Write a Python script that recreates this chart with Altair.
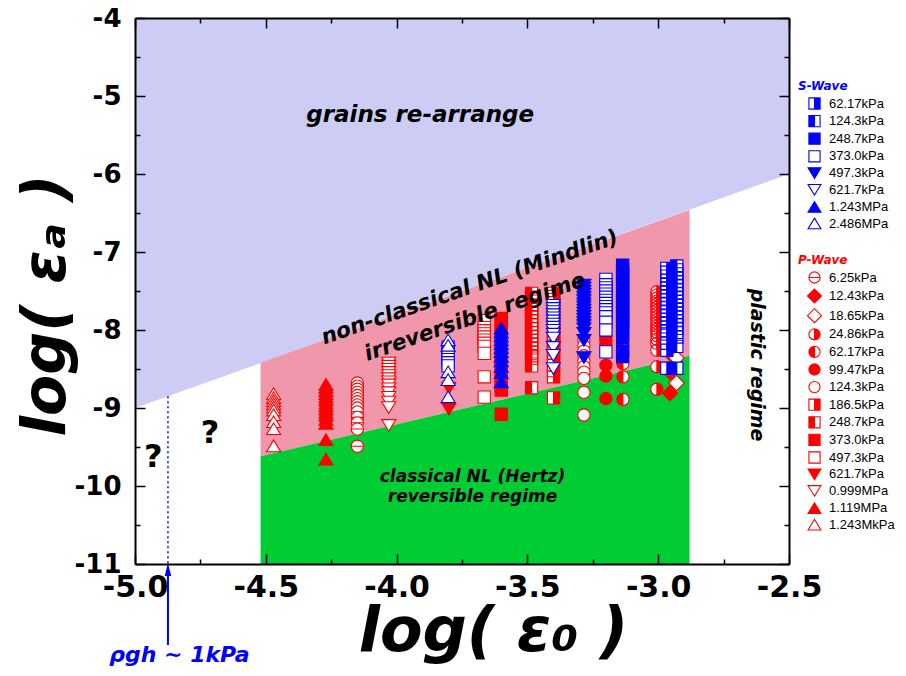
import altair as alt
import pandas as pd

# ---------------- layout / scales ----------------
W, H = 654, 546
X_DOMAIN = [-5.0, -2.5]
Y_DOMAIN = [-11.0, -4.0]
X_MAJOR = [-5.0, -4.5, -4.0, -3.5, -3.0, -2.5]
X_MINOR = [-4.75, -4.25, -3.75, -3.25, -2.75]
Y_MAJOR = [-11, -10, -9, -8, -7, -6, -5, -4]
Y_MINOR = [-10.5, -9.5, -8.5, -7.5, -6.5, -5.5, -4.5]

FONT = "DejaVu Sans"
BLUE = "#0000FF"
RED = "#FF0000"
REGION_BLUE = "#CCCCF5"
REGION_PINK = "#F097AB"
REGION_GREEN = "#00CC33"

# ---------------- regime regions ----------------
UPPER_X = [-5.0, -2.5]          # upper boundary (grains re-arrange)
UPPER_Y = [-9.0, -6.0]
BAND_X = [-4.52, -2.88]         # measured band
BAND_TOP = [-8.42, -6.46]
BAND_MID = [-9.62, -8.33]

# ---------------- symbols ----------------
SQ = "M-1,-1H1V1H-1Z"
CI = "M1,0A1,1,0,1,1,-1,0A1,1,0,1,1,1,0Z"
TU = "M0,-1L1.15,0.9L-1.15,0.9Z"
TD = "M0,1L1.15,-0.9L-1.15,-0.9Z"
DM = "M0,-1.25L1.25,0L0,1.25L-1.25,0Z"
SQ_RF = SQ + "M-1,-1V1H0V-1Z"
SQ_LF = SQ + "M0,-1V1H1V-1Z"
CI_RF = CI + "M0,1V-1A1,1,0,0,0,0,1Z"
CI_LF = CI + "M0,-1V1A1,1,0,0,0,0,-1Z"
CI_BAR = CI + "M-1,0H1"
HALF = {SQ_RF: SQ, SQ_LF: SQ, CI_RF: CI, CI_LF: CI}

# ---------------- P-wave series ----------------
P_LABELS = ["6.25kPa", "12.43kPa", "18.65kPa", "24.86kPa", "62.17kPa", "99.47kPa",
            "124.3kPa", "186.5kPa", "248.7kPa", "373.0kPa", "497.3kPa", "621.7kPa",
            "0.999MPa", "1.119MPa", "1.243MkPa"]
P_SHAPES = [CI_BAR, DM, DM, CI_RF, CI_LF, CI, CI, SQ_RF, SQ_LF, SQ, SQ, TD, TD, TU, TU]
P_FILLS = ["white", RED, "white", RED, RED, RED, "white", RED, RED, RED, "white",
           RED, "white", RED, "white"]

P_6_25 = [(-4.15, [-8.68, -8.72, -8.76, -8.80, -8.84, -8.88, -8.92, -8.96, -9.00, -9.05,
                   -9.12, -9.19, -9.27, -9.49])]
P_12_43 = [(-2.955, [-8.30, -8.54, -8.81])]
P_18_65 = [(-2.93, [-8.36, -8.68])]
P_24_86 = [(-3.005, [-7.51, -7.55, -7.59, -7.63, -7.67, -7.71, -7.75, -7.79, -7.83, -7.87,
                     -7.91, -7.95, -7.99, -8.03, -8.07, -8.12, -8.17, -8.26, -8.47, -8.76])]
P_62_17 = [(-3.135, [-8.13, -8.20, -8.43, -8.60, -8.89])]
P_99_47 = [(-3.20, [-8.08, -8.13, -8.18, -8.45, -8.59, -8.88])]
P_124_3 = [(-3.284, [-8.13, -8.20, -8.27, -8.33, -8.40, -8.47, -8.54, -8.62, -8.80, -9.09])]
P_186_5 = [(-3.40, [-7.53, -7.57, -7.61, -7.65, -7.69, -7.73, -7.77, -7.81, -7.85, -7.89,
                    -7.93, -7.97, -8.01, -8.05, -8.09, -8.13, -8.17, -8.21, -8.25, -8.30,
                    -8.36, -8.45, -8.52, -8.60, -8.87])]
P_248_7 = [(-3.484, [-7.53, -7.58, -7.63, -7.68, -7.73, -7.78, -7.83, -7.88, -7.93, -7.98,
                     -8.03, -8.08, -8.13, -8.18, -8.23, -8.28, -8.33, -8.36, -8.46, -8.74])]
P_373_0 = [(-3.60, [-7.85, -7.92, -8.00, -8.08, -8.16, -8.24, -8.32, -8.40, -8.48, -8.56,
                    -8.64, -8.72, -8.77, -9.08])]
P_497_3 = [(-3.665, [-7.88, -7.97, -8.01, -8.05, -8.09, -8.13, -8.17, -8.21, -8.30, -8.60,
                     -8.86])]
P_621_7 = [(-3.80, [-8.74, -9.01])]
P_0_999 = [(-4.03, [-8.42, -8.46, -8.50, -8.54, -8.58, -8.62, -8.66, -8.70, -8.75, -8.80,
                    -8.86, -8.92, -8.99, -9.22])]
P_1_119 = [(-4.27, [-8.70, -8.74, -8.78, -8.82, -8.86, -8.90, -8.94, -8.98, -9.02, -9.06,
                    -9.10, -9.15, -9.20, -9.41, -9.66])]
P_1_243 = [(-4.47, [-8.82, -8.87, -8.91, -8.95, -8.99, -9.03, -9.09, -9.18, -9.27, -9.49])]
P_GROUPS = [P_6_25, P_12_43, P_18_65, P_24_86, P_62_17, P_99_47, P_124_3, P_186_5,
            P_248_7, P_373_0, P_497_3, P_621_7, P_0_999, P_1_119, P_1_243]

# ---------------- S-wave series ----------------
S_LABELS = ["62.17kPa", "124.3kPa", "248.7kPa", "373.0kPa", "497.3kPa", "621.7kPa",
            "1.243MPa", "2.486MPa"]
S_SHAPES = [SQ_RF, SQ_LF, SQ, SQ, TD, TD, TU, TU]
S_FILLS = [BLUE, BLUE, BLUE, "white", BLUE, "white", BLUE, "white"]

S_62_17 = [(-2.967, [-7.21, -7.26, -7.31, -7.36, -7.41, -7.46, -7.51, -7.56, -7.61, -7.66,
                     -7.71, -7.76, -7.81, -7.86, -7.91, -7.96, -8.01, -8.05, -8.17, -8.26,
                     -8.49])]
S_124_3 = [(-2.929, [-7.18, -7.23, -7.28, -7.33, -7.38, -7.43, -7.48, -7.53, -7.58, -7.63,
                     -7.68, -7.73, -7.78, -7.83, -7.88, -7.93, -7.98, -8.03, -8.09, -8.21,
                     -8.49])]
S_248_7 = [(-3.136, [-7.17, -7.23, -7.29, -7.35, -7.41, -7.47, -7.53, -7.59, -7.65, -7.71,
                     -7.77, -7.83, -7.89, -7.94, -8.02, -8.10, -8.27, -8.34])]
S_373_0 = [(-3.20, [-7.35, -7.42, -7.46, -7.50, -7.54, -7.58, -7.62, -7.66, -7.70, -7.74,
                    -7.78, -7.83, -7.90, -8.00, -8.28]),
           (-3.803, [-8.22, -8.26, -8.30, -8.34, -8.38, -8.42, -8.46])]
S_497_3 = [(-3.284, [-7.42, -7.46, -7.50, -7.54, -7.58, -7.62, -7.66, -7.70, -7.74, -7.78,
                     -7.82, -7.86, -7.90, -7.94, -7.98, -8.04, -8.13, -8.35])]
S_621_7 = [(-3.401, [-7.68, -7.72, -7.76, -7.80, -7.84, -7.88, -7.92, -7.96, -8.00, -8.05,
                     -8.10, -8.22, -8.32, -8.49])]
S_1_243 = [(-3.60, [-7.98, -8.03, -8.08, -8.13, -8.18, -8.23, -8.28, -8.34, -8.40, -8.47,
                    -8.55, -8.67])]
S_2_486 = [(-3.803, [-8.13, -8.20, -8.54, -8.64, -8.86])]
S_GROUPS = [S_62_17, S_124_3, S_248_7, S_373_0, S_497_3, S_621_7, S_1_243, S_2_486]

# ---------------- annotations ----------------
RHO_LINE_X = -4.874
DOTTED_Y = [-8.85, -11.0]
ARROW_Y = [-12.04, -11.12]
ARROW_HEAD_Y = -11.07
RHO_LABEL = "ρgh ~ 1kPa"
RHO_POS = (-4.83, -12.17)
QMARK_X = [-4.93, -4.713]
QMARK_Y = [-9.63, -9.32]


def build(labels, shapes, groups):
    rows = []
    for lab, shp, grp in zip(labels, shapes, groups):
        for gx, ys in grp:
            for yv in ys:
                rows.append({"series": lab, "x": gx, "y": yv,
                             "base": HALF.get(shp, ""), "half": shp in HALF})
    return pd.DataFrame(rows)


p_df = build(P_LABELS, P_SHAPES, P_GROUPS)
s_df = build(S_LABELS, S_SHAPES, S_GROUPS)

XS = alt.Scale(domain=X_DOMAIN, nice=False, zero=False)
YS = alt.Scale(domain=Y_DOMAIN, nice=False, zero=False)


def ex(field="x", axis=None):
    return alt.X(f"{field}:Q", scale=XS, axis=axis)


def ey(field="y", axis=None):
    return alt.Y(f"{field}:Q", scale=YS, axis=axis)


# ---------------- regions ----------------
blue_area = alt.Chart(pd.DataFrame({"x": UPPER_X, "y": UPPER_Y, "y2": [Y_DOMAIN[1]] * 2})).mark_area(
    color=REGION_BLUE, opacity=1).encode(x=ex(), y=ey(), y2="y2:Q")
pink_area = alt.Chart(pd.DataFrame({"x": BAND_X, "y": BAND_MID, "y2": BAND_TOP})).mark_area(
    color=REGION_PINK, opacity=1).encode(x=ex(), y=ey(), y2="y2:Q")
green_area = alt.Chart(pd.DataFrame({"x": BAND_X, "y": [Y_DOMAIN[0]] * 2, "y2": BAND_MID})).mark_area(
    color=REGION_GREEN, opacity=1).encode(x=ex(), y=ey(), y2="y2:Q")

dotted = alt.Chart(pd.DataFrame({"x": [RHO_LINE_X], "y": [DOTTED_Y[0]], "y2": [DOTTED_Y[1]]})).mark_rule(
    color=BLUE, strokeDash=[2, 3], strokeWidth=1.5).encode(x=ex(), y=ey(), y2="y2:Q")

# ---------------- axes ----------------
MINUS_FIX_1 = "replace(format(datum.value, '.1f'), '\u2212', '-')"
MINUS_FIX_0 = "replace(format(datum.value, 'd'), '\u2212', '-')"

AX_X_LAB = alt.Axis(orient="bottom", values=X_MAJOR, labelExpr=MINUS_FIX_1, ticks=False,
                    domain=False, grid=False, labelFont=FONT, labelFontSize=30,
                    labelFontWeight="bold", labelColor="black", labelPadding=8,
                    labelFlush=False, labelOverlap=False,
                    title="log( ε₀ )", titleFont=FONT, titleFontSize=62, titleFontWeight="bold",
                    titleFontStyle="italic", titleColor="black", titleX=358, titleY=86,
                    titleAlign="center", titleBaseline="alphabetic")
AX_Y_LAB = alt.Axis(orient="left", values=Y_MAJOR, labelExpr=MINUS_FIX_0, ticks=False,
                    domain=False, grid=False, labelFont=FONT, labelFontSize=26,
                    labelFontWeight="bold", labelColor="black", labelPadding=14,
                    labelFlush=False, labelOverlap=False,
                    title="log( εₐ )", titleFont=FONT, titleFontSize=60, titleFontWeight="bold",
                    titleFontStyle="italic", titleColor="black", titleX=-71, titleY=287,
                    titleAngle=270, titleAlign="center", titleBaseline="alphabetic")


def tick_axis(orient, offset, values, size, domain):
    return alt.Axis(orient=orient, offset=offset, values=values, tickSize=size, ticks=True,
                    labels=False, domain=domain, domainColor="black", domainWidth=2,
                    tickColor="black", tickWidth=1.5, grid=False, title=None, zindex=2)


AXIS_PAIRS = [
    (AX_X_LAB, AX_Y_LAB),
    (tick_axis("top", -H, X_MAJOR, 10, True), tick_axis("right", -W, Y_MAJOR, 10, True)),
    (tick_axis("top", -H, X_MINOR, 5, False), tick_axis("right", -W, Y_MINOR, 5, False)),
    (tick_axis("bottom", -H, X_MAJOR, 10, True), tick_axis("left", -W, Y_MAJOR, 10, True)),
    (tick_axis("bottom", -H, X_MINOR, 5, False), tick_axis("left", -W, Y_MINOR, 5, False)),
]
dummy = pd.DataFrame({"x": [X_DOMAIN[0]], "y": [Y_DOMAIN[0]]})
axis_layers = [alt.Chart(dummy).mark_point(opacity=0).encode(x=ex(axis=ax), y=ey(axis=ay))
               for ax, ay in AXIS_PAIRS]


# ---------------- points ----------------
def legend(title, color, ly):
    return alt.Legend(title=title, orient="none", legendX=663, legendY=ly, direction="vertical",
                      titleColor=color, titleFont=FONT, titleFontSize=12, titleFontWeight="bold",
                      titleFontStyle="italic", titlePadding=4, labelFont="Liberation Sans",
                      labelFontSize=13, labelColor="black", symbolSize=125,
                      symbolStrokeWidth=1.1, symbolOffset=10, labelOffset=8, rowPadding=0.6,
                      padding=0, labelLimit=200)


def point_layers(df, labels, shapes, fills, color, title, ly):
    base = alt.Chart(df[df["half"]]).mark_point(filled=True, opacity=1, size=150, strokeWidth=0).encode(
        x=ex(), y=ey(), shape=alt.Shape("base:N", scale=None), fill=alt.value("white"))
    lg = legend(title, color, ly)
    main = alt.Chart(df).mark_point(filled=True, opacity=1, size=150, strokeWidth=1.1).encode(
        x=ex(), y=ey(),
        shape=alt.Shape("series:N", scale=alt.Scale(domain=labels, range=shapes), legend=lg),
        fill=alt.Fill("series:N", scale=alt.Scale(domain=labels, range=fills), legend=lg),
        stroke=alt.Stroke("series:N", scale=alt.Scale(domain=labels, range=[color] * len(labels)),
                          legend=lg),
    )
    return [base, main]


p_layers = point_layers(p_df, P_LABELS, P_SHAPES, P_FILLS, RED, "P-Wave", 237)
s_layers = point_layers(s_df, S_LABELS, S_SHAPES, S_FILLS, BLUE, "S-Wave", 63)


# ---------------- texts ----------------
def text(label, x, y, size, angle=0, color="black", italic=True):
    kw = dict(font=FONT, fontSize=size, fontWeight="bold", color=color, clip=False,
              align="center", baseline="middle")
    if angle:
        kw["angle"] = angle
    if italic:
        kw["fontStyle"] = "italic"
    return alt.Chart(pd.DataFrame({"x": [x], "y": [y], "t": [label]})).mark_text(**kw).encode(
        x=ex(), y=ey(), text="t:N")


texts = [
    text("grains re-arrange", -3.91, -5.24, 23),
    text("non-classical NL (Mindlin)", -3.72, -7.46, 21.5, 341),
    text("irreversible regime", -3.70, -7.84, 21.5, 341),
    text("classical NL (Hertz)", -3.71, -9.89, 17),
    text("reversible regime", -3.71, -10.14, 17),
    text("plastic regime", -2.622, -8.45, 19, 90),
    text("?", QMARK_X[0], QMARK_Y[0], 32, italic=False),
    text("?", QMARK_X[1], QMARK_Y[1], 32, italic=False),
    text(RHO_LABEL, RHO_POS[0], RHO_POS[1], 22, color=BLUE),
]

arrow = alt.Chart(pd.DataFrame({"x": [RHO_LINE_X], "y": [ARROW_Y[0]], "y2": [ARROW_Y[1]]})).mark_rule(
    color=BLUE, strokeWidth=2, clip=False).encode(x=ex(), y=ey(), y2="y2:Q")
head = alt.Chart(pd.DataFrame({"x": [RHO_LINE_X], "y": [ARROW_HEAD_Y]})).mark_point(
    shape="M0,-1L0.5,1L-0.5,1Z", size=169, filled=True, opacity=1, color=BLUE, clip=False).encode(
    x=ex(), y=ey())

layers = [blue_area, pink_area, green_area, dotted] + axis_layers + p_layers + s_layers + texts + [arrow, head]

chart = alt.layer(*layers).resolve_axis(x="independent", y="independent").resolve_scale(
    shape="independent", fill="independent", stroke="independent"
).properties(
    width=W, height=H,
    autosize=alt.AutoSizeParams(type="none"),
    padding={"left": 127, "top": 10, "right": 109, "bottom": 102},
).configure_view(stroke=None)

chart.save("out.html", embed_options={"renderer": "svg", "actions": False})
